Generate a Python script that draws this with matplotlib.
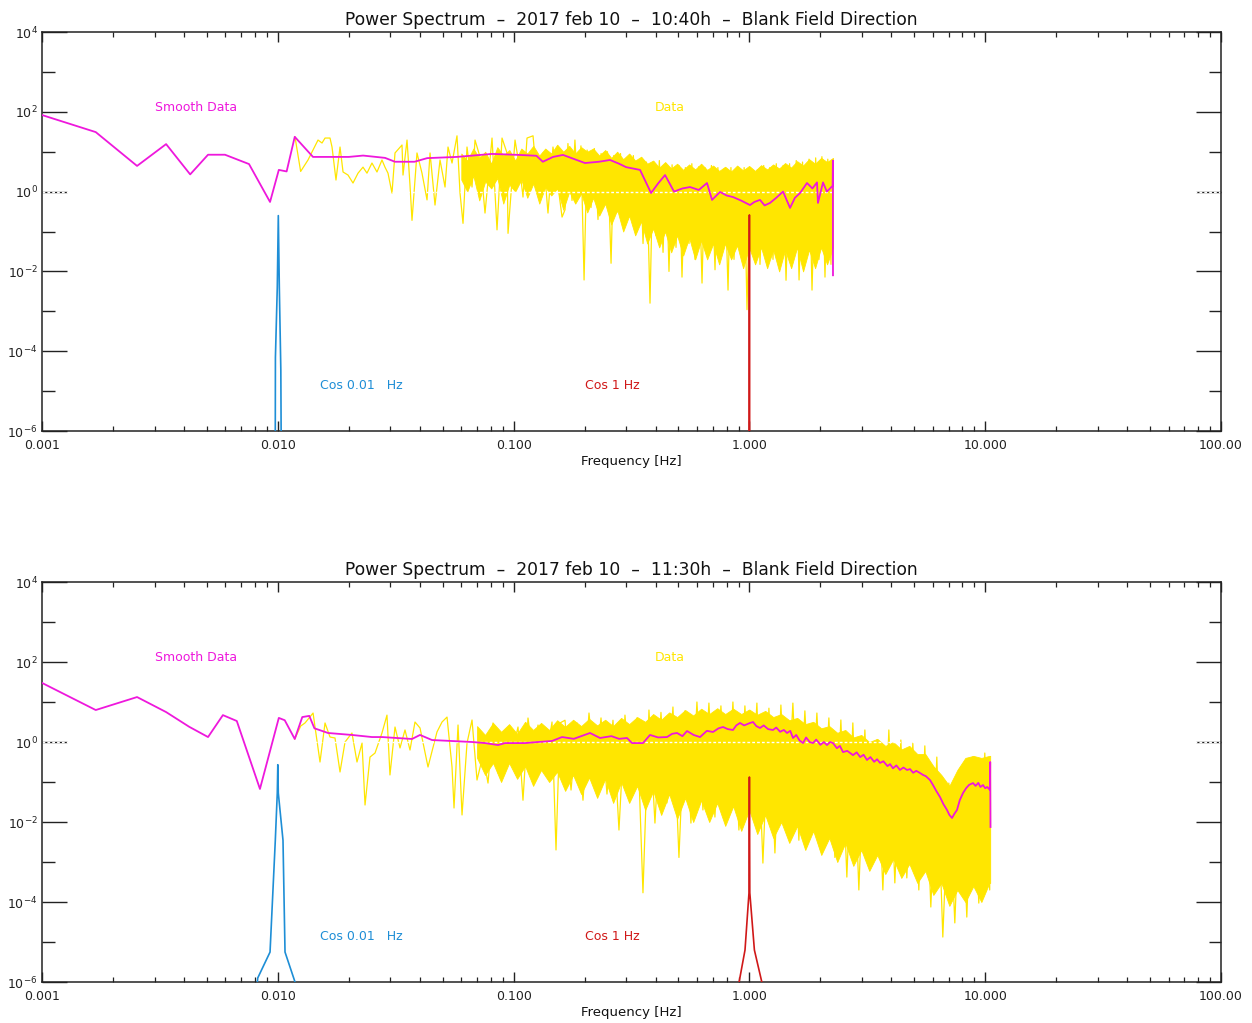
import matplotlib
matplotlib.use("Agg")
import matplotlib.pyplot as plt
from matplotlib.ticker import FixedLocator, FixedFormatter, NullFormatter

# ---------------- TOP PANEL (10:40h) ----------------
smooth_f_top = [0.001, 0.00169, 0.00253, 0.00336, 0.00425, 0.00506, 0.00597, 0.00755, 0.00927, 0.0101,
                0.0109, 0.0118, 0.0141, 0.0200, 0.0230, 0.0285, 0.0314, 0.0380, 0.0430, 0.0575,
                0.0810, 0.1060, 0.1250, 0.1330, 0.1470, 0.1620, 0.2008, 0.2300, 0.2564, 0.2800,
                0.3000, 0.3437, 0.3828, 0.4100, 0.4388, 0.4790, 0.5200, 0.5600, 0.6100, 0.6610,
                0.6942, 0.7508, 0.8000, 0.8517, 0.9200, 1.006, 1.050, 1.109, 1.160, 1.223,
                1.300, 1.389, 1.487, 1.560, 1.640, 1.755, 1.850, 1.935, 1.953, 2.052,
                2.130, 2.198, 2.255, 2.260, 2.262]
smooth_p_top = [83, 31, 4.4, 15.5, 2.7, 8.4, 8.4, 4.9, 0.55, 3.5,
                3.2, 23.6, 7.4, 7.4, 8.0, 7.0, 5.6, 5.6, 6.9, 7.4,
                8.8, 8.3, 7.9, 5.6, 7.4, 8.3, 5.2, 5.6, 6.2, 5.0,
                4.1, 3.5, 0.92, 1.6, 2.6, 1.0, 1.2, 1.3, 1.1, 1.64,
                0.62, 0.98, 0.80, 0.73, 0.60, 0.46, 0.55, 0.62, 0.45, 0.52,
                0.70, 1.0, 0.39, 0.70, 0.92, 1.64, 1.2, 1.7, 0.52, 1.7,
                1.0, 1.2, 1.4, 6.0, 0.008]

data_f_top = [0.01183, 0.01250, 0.01343, 0.01481, 0.01540, 0.01586, 0.01665, 0.01698, 0.01765, 0.01836,
              0.01891, 0.01985, 0.02084, 0.02189, 0.02298, 0.02389, 0.02508, 0.02634, 0.02766, 0.02848,
              0.02933, 0.03050, 0.03141, 0.03363, 0.03396, 0.03532, 0.03636, 0.03708, 0.03893, 0.04088,
              0.04294, 0.04422, 0.04642, 0.04875, 0.05119, 0.05271, 0.05481, 0.05754, 0.05926, 0.06102,
              0.06345, 0.06663, 0.06861, 0.07204, 0.07564, 0.08100, 0.08505, 0.08931, 0.09376, 0.09470,
              0.1014, 0.1064, 0.1096, 0.1140, 0.1209, 0.1269, 0.1333, 0.1399, 0.1469, 0.1605,
              0.1652, 0.1700, 0.1769, 0.1820, 0.1876, 0.1930, 0.1990, 0.2050, 0.2130, 0.2200,
              0.2280, 0.2350, 0.2418, 0.2500, 0.2590, 0.2660, 0.2745, 0.2840, 0.2940, 0.3030,
              0.3117, 0.3220, 0.3338, 0.3440, 0.3539, 0.3660, 0.3789, 0.3900, 0.4017, 0.4150,
              0.4303, 0.4430, 0.4560, 0.4700, 0.4884, 0.5030, 0.5178, 0.5350, 0.5546, 0.5700,
              0.5880, 0.6100, 0.6296, 0.6480, 0.6675, 0.6900, 0.7148, 0.7350, 0.7579, 0.7850,
              0.8116, 0.8350, 0.8604, 0.8900, 0.9214, 0.9500, 0.9768, 1.010, 1.046, 1.080,
              1.109, 1.150, 1.188, 1.220, 1.259, 1.300, 1.349, 1.390, 1.430, 1.480,
              1.531, 1.580, 1.624, 1.680, 1.738, 1.790, 1.843, 1.910, 1.973, 2.030,
              2.092, 2.150, 2.218, 2.250, 2.262]
data_p_top = [23.4, 3.2, 6.2, 19.6, 16.5, 22, 22, 13.1, 1.95, 13.1,
              3.1, 2.6, 1.64, 2.9, 4.1, 2.9, 5.2, 3.1, 6.2, 4.1,
              2.9, 0.92, 9.3, 14.7, 2.6, 19.6, 1.46, 0.19, 9.3, 2.9,
              0.62, 9.3, 0.46, 6.2, 1.30, 13.1, 5.2, 25, 0.92, 0.16,
              13.1, 1.30, 19.6, 7.4, 0.29, 22, 0.11, 22, 9.3, 0.09,
              19.6, 3.5, 0.73, 22, 25, 0.92, 9.3, 0.29, 13.1, 0.23,
              0.35, 16, 0.6, 19.6, 1.0, 14, 0.0061, 11, 0.4, 12,
              0.2, 9, 0.5, 10, 0.016, 8, 0.3, 9, 0.12, 7,
              0.25, 8, 0.1, 6, 0.05, 5.5, 0.0016, 5, 0.08, 6,
              0.03, 5, 0.01, 4.7, 0.04, 4.5, 0.0072, 4, 0.05, 5,
              0.02, 4.2, 0.0051, 4, 0.03, 4.5, 0.011, 4, 0.04, 3.8,
              0.0034, 4, 0.02, 3.5, 0.03, 4, 0.0011, 4, 0.03, 3.5,
              0.015, 4.5, 0.04, 4, 0.02, 5, 0.03, 4.5, 0.006, 5,
              0.03, 6, 0.0061, 5.5, 0.02, 6.5, 0.0034, 7, 0.02, 7.5,
              0.0072, 6.5, 0.015, 5, 0.1]

band_f_top = [0.0600, 0.0636, 0.0675, 0.0715, 0.0758, 0.0804, 0.0853, 0.0904, 0.0959, 0.1016,
              0.1078, 0.1143, 0.1212, 0.1285, 0.1362, 0.1444, 0.1531, 0.1624, 0.1722, 0.1825,
              0.1935, 0.2052, 0.2176, 0.2307, 0.2446, 0.2594, 0.2750, 0.2916, 0.3092, 0.3278,
              0.3476, 0.3686, 0.3908, 0.4144, 0.4393, 0.4658, 0.4939, 0.5237, 0.5553, 0.5888,
              0.6243, 0.6619, 0.7018, 0.7442, 0.7890, 0.8366, 0.8871, 0.9405, 0.9973, 1.057,
              1.121, 1.189, 1.261, 1.337, 1.417, 1.503, 1.593, 1.689, 1.791, 1.899,
              2.014, 2.135, 2.262]
band_hi_top = [9, 6, 12, 7, 10, 5, 13, 8, 11, 6,
               12, 9, 14, 8, 12, 9, 15, 10, 14, 9,
               13, 10, 12, 8, 11, 7, 10, 6.5, 9, 6,
               7.5, 5, 6, 4, 5.5, 3.8, 5, 3.5, 4.8, 3.6,
               5, 3.5, 4.5, 3.3, 4.2, 3.2, 4.5, 3.4, 4.4, 3.3,
               4.6, 3.6, 4.8, 3.8, 5.2, 4, 5.8, 4.5, 6.5, 5,
               7, 5.5, 7]
band_lo_top = [2.0, 1.0, 2.5, 0.6, 1.8, 1.2, 2.2, 0.5, 1.5, 1.0,
               2.0, 0.7, 1.6, 0.5, 1.3, 0.8, 1.2, 0.35, 1.0, 0.5,
               0.9, 0.3, 0.7, 0.25, 0.5, 0.15, 0.35, 0.1, 0.25, 0.08,
               0.18, 0.05, 0.12, 0.04, 0.1, 0.03, 0.08, 0.025, 0.07, 0.02,
               0.06, 0.02, 0.05, 0.015, 0.05, 0.02, 0.045, 0.012, 0.04, 0.015,
               0.04, 0.012, 0.035, 0.01, 0.035, 0.012, 0.04, 0.01, 0.035, 0.012,
               0.04, 0.015, 0.04]

cos001_f_top = [0.00975, 0.00977, 0.00995, 0.01005, 0.01015, 0.01030, 0.01035]
cos001_p_top = [1e-7, 7e-5, 4e-3, 0.25, 4e-3, 3.4e-5, 1e-7]
cos1_f_top = [0.9990, 1.0000, 1.0010]
cos1_p_top = [1e-7, 0.26, 1e-7]

# ---------------- BOTTOM PANEL (11:30h) ----------------
smooth_f_bot = [0.001, 0.00169, 0.00253, 0.00336, 0.00421, 0.00506, 0.00585, 0.0067, 0.0084, 0.0101,
                0.0107, 0.0118, 0.0127, 0.0136, 0.0143, 0.01633, 0.02063, 0.02508, 0.02766, 0.03708,
                0.04010, 0.04508, 0.05481, 0.06663, 0.07564, 0.08588, 0.09193, 0.1118, 0.1269, 0.1455,
                0.1605, 0.18, 0.2109, 0.2325, 0.26, 0.28, 0.3027, 0.3178, 0.3538, 0.3789,
                0.41, 0.4473, 0.47, 0.4932, 0.52, 0.5439, 0.58, 0.6174, 0.66, 0.7009,
                0.74, 0.7727, 0.81, 0.8519, 0.88, 0.9124, 0.95, 1.006, 1.036, 1.07,
                1.109, 1.15, 1.2, 1.259, 1.3, 1.35, 1.4, 1.444, 1.49, 1.531,
                1.58, 1.63, 1.688, 1.74, 1.80, 1.861, 1.92, 2.0, 2.07, 2.133,
                2.2, 2.262, 2.35, 2.42, 2.494, 2.6, 2.75, 2.85, 2.95, 3.05,
                3.153, 3.26, 3.38, 3.48, 3.58, 3.7, 3.85, 3.95, 4.064, 4.2,
                4.35, 4.5, 4.661, 4.8, 4.95, 5.1, 5.29, 5.45, 5.6, 5.833,
                6.0, 6.2, 6.433, 6.65, 6.887, 7.05, 7.231, 7.4, 7.593, 7.8,
                8.052, 8.3, 8.55, 8.88, 9.1, 9.35, 9.55, 9.788, 10.0, 10.2,
                10.48, 10.50, 10.53]
smooth_p_bot = [30, 6.3, 13.3, 5.6, 2.4, 1.33, 4.7, 3.35, 0.067, 4.0,
                3.5, 1.19, 4.2, 4.5, 2.2, 1.68, 1.5, 1.33, 1.33, 1.19,
                1.5, 1.12, 1.06, 1.0, 0.94, 0.84, 0.94, 0.94, 1.0, 1.06,
                1.33, 1.2, 1.68, 1.26, 1.4, 1.2, 1.26, 0.94, 0.94, 1.5,
                1.3, 1.33, 1.6, 1.68, 1.4, 1.88, 1.5, 1.33, 1.9, 1.78,
                2.2, 2.37, 2.1, 2.0, 2.6, 2.99, 2.6, 2.99, 3.16, 2.5,
                2.24, 2.6, 2.1, 2.0, 2.3, 1.8, 2.0, 1.68, 1.9, 1.26,
                1.5, 1.1, 0.94, 1.3, 1.0, 0.94, 1.15, 0.85, 1.0, 0.84,
                1.0, 0.94, 0.7, 0.8, 0.56, 0.6, 0.47, 0.55, 0.42, 0.48,
                0.355, 0.42, 0.32, 0.37, 0.30, 0.33, 0.25, 0.28, 0.22, 0.26,
                0.20, 0.23, 0.20, 0.21, 0.17, 0.19, 0.168, 0.15, 0.14, 0.112,
                0.085, 0.06, 0.042, 0.028, 0.020, 0.015, 0.0126, 0.016, 0.020, 0.035,
                0.053, 0.07, 0.085, 0.094, 0.08, 0.095, 0.075, 0.084, 0.07, 0.075,
                0.063, 0.316, 0.0075]

data_f_bot = [0.0118, 0.0125, 0.01305, 0.01411, 0.01510, 0.01586, 0.01665, 0.01748, 0.01836, 0.01928,
              0.02063, 0.02167, 0.02276, 0.02344, 0.02460, 0.02584, 0.02766, 0.02904, 0.02990, 0.03141,
              0.03298, 0.03463, 0.03636, 0.03818, 0.04010, 0.04335, 0.04732, 0.04971, 0.05220, 0.05481,
              0.05589, 0.05812, 0.06043, 0.06345, 0.06663, 0.06996, 0.07417, 0.07788, 0.08178, 0.08588,
              0.09193, 0.09844, 0.1044, 0.1096, 0.1151, 0.1209, 0.1269, 0.1359, 0.1455, 0.1513,
              0.1573, 0.1652, 0.1752, 0.1857, 0.1969, 0.2088, 0.2214, 0.2348, 0.2489, 0.2639,
              0.2798, 0.2967, 0.3146, 0.3336, 0.3537, 0.3750, 0.3976, 0.4216, 0.4470, 0.4740,
              0.5026, 0.5329, 0.5650, 0.5991, 0.6352, 0.6735, 0.7141, 0.7572, 0.8029, 0.8513,
              0.9026, 0.9570, 1.015, 1.076, 1.141, 1.210, 1.283, 1.360, 1.442, 1.529,
              1.621, 1.719, 1.823, 1.933, 2.049, 2.173, 2.304, 2.443, 2.590, 2.746,
              2.912, 3.088, 3.274, 3.471, 3.681, 3.903, 4.138, 4.388, 4.652, 4.933,
              5.230, 5.546, 5.880, 6.235, 6.611, 7.010, 7.433, 7.881, 8.356, 8.860,
              9.394, 9.961, 10.45, 10.50]
data_p_bot = [1.19, 2.5, 3.0, 5.3, 0.316, 2.99, 1.33, 1.26, 0.178, 1.0,
              1.68, 0.316, 0.94, 0.0266, 0.42, 0.53, 1.68, 4.7, 0.15, 2.37,
              0.71, 2.0, 0.63, 3.16, 2.24, 0.237, 1.78, 3.16, 4.2, 0.237,
              0.0224, 2.66, 0.015, 0.94, 3.55, 0.112, 0.47, 0.094, 2.99, 0.168,
              1.33, 0.53, 2.37, 0.035, 3.98, 0.42, 2.66, 0.237, 3.16, 0.002,
              2.99, 3.5, 0.063, 3.0, 0.035, 5.3, 0.15, 4.0, 0.05, 3.5,
              0.0063, 4.7, 0.06, 4.0, 0.00017, 6.3, 0.0094, 5.5, 0.03, 7.5,
              0.0013, 6.0, 0.0094, 10, 0.02, 9.4, 0.0133, 8.0, 0.0133, 10,
              0.0063, 8.0, 0.02, 9.4, 0.00094, 7.0, 0.00168, 8.4, 0.01, 9.4,
              0.0035, 6.0, 0.0094, 5.3, 0.005, 4.0, 0.0013, 3.55, 0.00042, 3.0,
              0.0002, 2.0, 0.0008, 1.12, 0.0002, 2.0, 0.0003, 1.12, 0.0004, 0.94,
              0.0002, 0.8, 7.5e-5, 0.42, 1.33e-5, 0.094, 3e-5, 0.237, 4.2e-5, 0.42,
              9.4e-5, 0.53, 0.0002, 0.3]

band_f_bot = [0.0700, 0.0757, 0.0818, 0.0885, 0.0957, 0.1035, 0.1119, 0.1210, 0.1308, 0.1415,
              0.1530, 0.1654, 0.1788, 0.1934, 0.2091, 0.2261, 0.2445, 0.2643, 0.2858, 0.3091,
              0.3342, 0.3614, 0.3908, 0.4225, 0.4569, 0.4940, 0.5342, 0.5776, 0.6246, 0.6754,
              0.7303, 0.7896, 0.8538, 0.9233, 0.9983, 1.0795, 1.1672, 1.2621, 1.3647, 1.4756,
              1.5956, 1.7253, 1.8656, 2.0173, 2.1813, 2.3586, 2.5504, 2.7577, 2.9819, 3.2243,
              3.4865, 3.7699, 4.0764, 4.4078, 4.7662, 5.1537, 5.5727, 6.0257, 6.5156, 7.0453,
              7.6181, 8.2374, 8.9071, 9.6312, 10.414, 10.50]
band_hi_bot = [2.5, 1.5, 3.0, 1.8, 2.8, 1.6, 3.2, 2.0, 3.0, 2.0,
               3.5, 2.4, 3.6, 2.5, 3.8, 2.6, 3.6, 2.5, 4.0, 2.8,
               4.2, 3.2, 5.0, 3.6, 5.5, 4.2, 6.3, 4.6, 6.8, 5.0,
               7.0, 5.0, 6.8, 5.0, 6.5, 4.8, 6.0, 4.2, 5.0, 3.5,
               4.0, 2.8, 3.2, 2.2, 2.5, 1.7, 2.0, 1.3, 1.5, 1.0,
               1.2, 0.8, 1.0, 0.65, 0.8, 0.5, 0.5, 0.25, 0.15, 0.08,
               0.2, 0.4, 0.45, 0.4, 0.45, 0.45]
band_lo_bot = [0.4, 0.15, 0.3, 0.1, 0.3, 0.12, 0.25, 0.08, 0.2, 0.1,
               0.18, 0.06, 0.15, 0.05, 0.13, 0.04, 0.12, 0.03, 0.1, 0.03,
               0.08, 0.02, 0.06, 0.015, 0.05, 0.012, 0.04, 0.01, 0.035, 0.01,
               0.03, 0.008, 0.025, 0.006, 0.02, 0.005, 0.015, 0.004, 0.01, 0.003,
               0.008, 0.002, 0.006, 0.0015, 0.004, 0.001, 0.003, 0.0008, 0.002, 0.0006,
               0.0015, 0.0005, 0.0012, 0.0004, 0.0009, 0.0003, 0.0006, 0.00015, 0.0003, 0.00008,
               0.0002, 0.0001, 0.00025, 0.0001, 0.0003, 0.0003]

cos001_f_bot = [0.0081, 0.00822, 0.00927, 0.00976, 0.00995, 0.0100, 0.01005, 0.01052, 0.01073, 0.01183, 0.0120]
cos001_p_bot = [5e-7, 1.26e-6, 5.6e-6, 3.5e-3, 0.053, 0.27, 0.053, 3.5e-3, 5.6e-6, 1e-6, 5e-7]
cos1_f_bot = [0.885, 0.958, 0.996, 0.998, 1.000, 1.002, 1.004, 1.050, 1.160]
cos1_p_bot = [5e-7, 6.3e-6, 1.7e-4, 6.3e-3, 0.133, 6.3e-3, 1.7e-4, 6.3e-6, 5e-7]

titles = ["Power Spectrum  \u2013  2017 feb 10  \u2013  10:40h  \u2013  Blank Field Direction",
          "Power Spectrum  \u2013  2017 feb 10  \u2013  11:30h  \u2013  Blank Field Direction"]
xlabel = "Frequency [Hz]"
x_major = [0.001, 0.01, 0.1, 1, 10, 100]
x_major_labels = ["0.001", "0.010", "0.100", "1.000", "10.000", "100.00"]
x_minor = [m * d for d in [0.001, 0.01, 0.1, 1, 10] for m in range(2, 10)]
y_major = [1e-6, 1e-4, 1e-2, 1e0, 1e2, 1e4]
y_major_labels = [r"$10^{-6}$", r"$10^{-4}$", r"$10^{-2}$", r"$10^{0}$", r"$10^{2}$", r"$10^{4}$"]
y_minor = [1e-5, 1e-3, 1e-1, 1e1, 1e3]

C_YEL = "#FFE600"
C_MAG = "#EE18DC"
C_BLU = "#1E8ED6"
C_RED = "#D01818"

fig = plt.figure(figsize=(12.52, 10.23), dpi=100)
fig.patch.set_facecolor("white")
W, H = 1252.0, 1023.0
ax_top = fig.add_axes([42 / W, 1 - 431 / H, 1179 / W, 399 / H])
ax_bot = fig.add_axes([42 / W, 1 - 982 / H, 1179 / W, 400 / H])

panels = [
    (ax_top, titles[0], smooth_f_top, smooth_p_top, data_f_top, data_p_top,
     band_f_top, band_hi_top, band_lo_top, cos001_f_top, cos001_p_top, cos1_f_top, cos1_p_top),
    (ax_bot, titles[1], smooth_f_bot, smooth_p_bot, data_f_bot, data_p_bot,
     band_f_bot, band_hi_bot, band_lo_bot, cos001_f_bot, cos001_p_bot, cos1_f_bot, cos1_p_bot),
]

for (ax, title, sf, sp, df, dp, bf, bhi, blo, cf1, cp1, cf2, cp2) in panels:
    ax.set_xscale("log")
    ax.set_yscale("log")
    ax.set_xlim(0.001, 100)
    ax.set_ylim(1e-6, 1e4)

    ax.fill_between(bf, blo, bhi, color=C_YEL, lw=0.6, edgecolor=C_YEL, zorder=2)
    ax.plot(df, dp, color=C_YEL, lw=0.9, zorder=2.05)
    ax.axhline(1.0, color="white", lw=1.0, ls=(0, (2, 1.5)), zorder=2.2)
    ax.plot(sf, sp, color=C_MAG, lw=1.3, zorder=3)
    ax.plot(cf1, cp1, color=C_BLU, lw=1.2, zorder=3)
    ax.plot(cf2, cp2, color=C_RED, lw=1.2, zorder=3)

    ax.xaxis.set_major_locator(FixedLocator(x_major))
    ax.xaxis.set_major_formatter(FixedFormatter(x_major_labels))
    ax.xaxis.set_minor_locator(FixedLocator(x_minor))
    ax.xaxis.set_minor_formatter(NullFormatter())
    ax.yaxis.set_major_locator(FixedLocator(y_major))
    ax.yaxis.set_major_formatter(FixedFormatter(y_major_labels))
    ax.yaxis.set_minor_locator(FixedLocator(y_minor))
    ax.yaxis.set_minor_formatter(NullFormatter())

    ax.tick_params(axis="x", which="major", direction="in", length=7, width=1.0,
                   top=True, bottom=True, labelsize=9, pad=6, colors="#222222")
    ax.tick_params(axis="x", which="minor", direction="in", length=3.5, width=0.9,
                   top=True, bottom=True, colors="#222222")
    ax.tick_params(axis="y", which="major", direction="in", length=18, width=1.0,
                   left=True, right=True, labelsize=9, pad=3, colors="#222222")
    ax.tick_params(axis="y", which="minor", direction="in", length=9, width=1.0,
                   left=True, right=True, colors="#222222")
    for s in ax.spines.values():
        s.set_color("#222222")
        s.set_linewidth(1.1)

    ax.set_title(title, fontsize=12.3, pad=5, color="#111111")
    ax.set_xlabel(xlabel, fontsize=9.5, labelpad=2, color="#111111")

    ax.text(0.0958, 0.812, "Smooth Data", transform=ax.transAxes, color=C_MAG,
            fontsize=9, va="center", ha="left")
    ax.text(0.520, 0.812, "Data", transform=ax.transAxes, color=C_YEL,
            fontsize=9, va="center", ha="left")
    ax.text(0.2358, 0.113, "Cos 0.01   Hz", transform=ax.transAxes, color=C_BLU,
            fontsize=9, va="center", ha="left")
    ax.text(0.4606, 0.113, "Cos 1 Hz", transform=ax.transAxes, color=C_RED,
            fontsize=9, va="center", ha="left")

fig.savefig("out.png", dpi=100, facecolor="white")
